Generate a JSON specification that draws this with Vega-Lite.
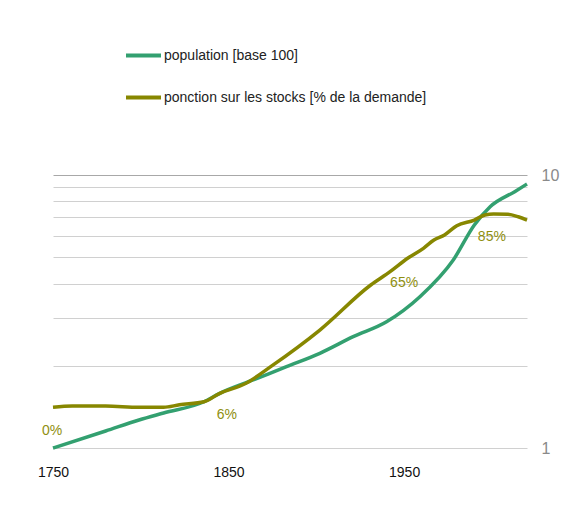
{
  "$schema": "https://vega.github.io/schema/vega-lite/v6.json",
  "autosize": {"type": "none"},
  "padding": {"left": 53, "top": 175, "right": 61, "bottom": 61},
  "width": 474,
  "height": 273,
  "background": "white",
  "config": {
    "font": "Liberation Sans",
    "view": {"stroke": null}
  },
  "datasets": {
    "lines": [
      {"year": 1750, "value": 1.0, "series": "population [base 100]"},
      {"year": 1780, "value": 1.154, "series": "population [base 100]"},
      {"year": 1799, "value": 1.266, "series": "population [base 100]"},
      {"year": 1813, "value": 1.343, "series": "population [base 100]"},
      {"year": 1836, "value": 1.477, "series": "population [base 100]"},
      {"year": 1845, "value": 1.586, "series": "population [base 100]"},
      {"year": 1864, "value": 1.775, "series": "population [base 100]"},
      {"year": 1883, "value": 1.986, "series": "population [base 100]"},
      {"year": 1902, "value": 2.223, "series": "population [base 100]"},
      {"year": 1921, "value": 2.557, "series": "population [base 100]"},
      {"year": 1940, "value": 2.901, "series": "population [base 100]"},
      {"year": 1959, "value": 3.583, "series": "population [base 100]"},
      {"year": 1978, "value": 4.883, "series": "population [base 100]"},
      {"year": 1990, "value": 6.56, "series": "population [base 100]"},
      {"year": 1999, "value": 7.65, "series": "population [base 100]"},
      {"year": 2013, "value": 8.69, "series": "population [base 100]"},
      {"year": 2020, "value": 9.27, "series": "population [base 100]"},
      {"year": 1750, "value": 1.41, "series": "ponction sur les stocks [% de la demande]"},
      {"year": 1761, "value": 1.425, "series": "ponction sur les stocks [% de la demande]"},
      {"year": 1780, "value": 1.425, "series": "ponction sur les stocks [% de la demande]"},
      {"year": 1799, "value": 1.41, "series": "ponction sur les stocks [% de la demande]"},
      {"year": 1813, "value": 1.41, "series": "ponction sur les stocks [% de la demande]"},
      {"year": 1822, "value": 1.44, "series": "ponction sur les stocks [% de la demande]"},
      {"year": 1836, "value": 1.477, "series": "ponction sur les stocks [% de la demande]"},
      {"year": 1845, "value": 1.586, "series": "ponction sur les stocks [% de la demande]"},
      {"year": 1860, "value": 1.726, "series": "ponction sur les stocks [% de la demande]"},
      {"year": 1874, "value": 1.986, "series": "ponction sur les stocks [% de la demande]"},
      {"year": 1902, "value": 2.705, "series": "ponction sur les stocks [% de la demande]"},
      {"year": 1931, "value": 3.955, "series": "ponction sur les stocks [% de la demande]"},
      {"year": 1942, "value": 4.424, "series": "ponction sur les stocks [% de la demande]"},
      {"year": 1952, "value": 4.953, "series": "ponction sur les stocks [% de la demande]"},
      {"year": 1961, "value": 5.389, "series": "ponction sur les stocks [% de la demande]"},
      {"year": 1967, "value": 5.78, "series": "ponction sur les stocks [% de la demande]"},
      {"year": 1973, "value": 6.03, "series": "ponction sur les stocks [% de la demande]"},
      {"year": 1980, "value": 6.52, "series": "ponction sur les stocks [% de la demande]"},
      {"year": 1990, "value": 6.84, "series": "ponction sur les stocks [% de la demande]"},
      {"year": 1996, "value": 7.14, "series": "ponction sur les stocks [% de la demande]"},
      {"year": 2001, "value": 7.2, "series": "ponction sur les stocks [% de la demande]"},
      {"year": 2009, "value": 7.18, "series": "ponction sur les stocks [% de la demande]"},
      {"year": 2015, "value": 7.03, "series": "ponction sur les stocks [% de la demande]"},
      {"year": 2020, "value": 6.84, "series": "ponction sur les stocks [% de la demande]"}
    ],
    "labels": [
      {"year": 1749.5, "value": 1.154, "text": "0%"},
      {"year": 1849, "value": 1.321, "text": "6%"},
      {"year": 1950, "value": 4.033, "text": "65%"},
      {"year": 2000, "value": 5.94, "text": "85%"}
    ]
  },
  "layer": [
    {
      "data": {"name": "lines"},
      "mark": {"type": "line", "strokeWidth": 3.5, "interpolate": "monotone", "strokeCap": "butt"},
      "encoding": {
        "x": {
          "field": "year", "type": "quantitative",
          "scale": {"domain": [1750, 2020], "nice": false, "zero": false},
          "axis": {
            "values": [1750, 1850, 1950], "grid": false, "domain": false, "ticks": false,
            "title": null, "labelFontSize": 14, "labelColor": "#111", "labelPadding": 17,
            "labelFlush": false, "format": "d"
          }
        },
        "y": {
          "field": "value", "type": "quantitative",
          "scale": {"type": "log", "domain": [1, 10], "nice": false},
          "axis": {
            "orient": "right", "values": [1, 2, 3, 4, 5, 6, 7, 8, 9, 10],
            "labelExpr": "datum.value == 1 || datum.value == 10 ? datum.value : ''",
            "grid": true,
            "gridColor": {"condition": {"test": "datum.value == 10", "value": "#a8a8a8"}, "value": "#d0d0d0"},
            "gridWidth": 1,
            "domain": false, "ticks": false, "title": null,
            "labelFontSize": 16, "labelColor": "#8a8a8a", "labelPadding": 14
          }
        },
        "color": {
          "field": "series", "type": "nominal",
          "scale": {
            "domain": ["population [base 100]", "ponction sur les stocks [% de la demande]"],
            "range": ["#33a070", "#878700"]
          },
          "legend": {
            "title": null, "orient": "none", "legendX": 71, "legendY": -139,
            "direction": "vertical", "symbolType": "stroke", "symbolStrokeWidth": 4,
            "symbolSize": 1225, "labelFontSize": 14, "labelColor": "#222",
            "labelOffset": 1, "rowPadding": 14, "padding": 0, "labelLimit": 400
          }
        }
      }
    },
    {
      "data": {"name": "labels"},
      "mark": {"type": "text", "fontSize": 14, "color": "#8f8f10"},
      "encoding": {
        "x": {"field": "year", "type": "quantitative"},
        "y": {"field": "value", "type": "quantitative"},
        "text": {"field": "text"}
      }
    }
  ]
}
